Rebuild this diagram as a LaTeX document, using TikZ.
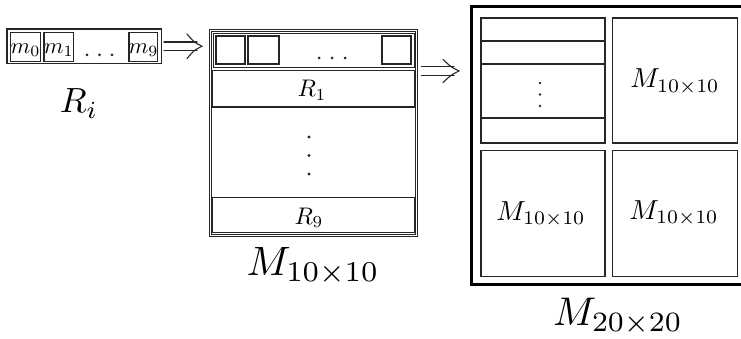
\documentclass[tikz,border=0pt]{standalone}
\usetikzlibrary{fit}
\newcommand\sz[2]{\scalebox{#1}{#2}}
\begin{document}
\begin{tikzpicture}[x=1pt,y=-1pt,
  box/.style={draw=black!85, line width=1.3pt, inner sep=0pt, outer sep=0pt},
  thickbox/.style={box, line width=1.9pt},
  dblbox/.style={draw=black!85, double, double distance=1.4pt, line width=0.85pt, inner sep=0pt, outer sep=0pt},
  bigbox/.style={draw=black, line width=2.6pt, inner sep=0pt, outer sep=0pt},
  arrowline/.style={draw=black!85, line width=1.1pt, line cap=round},
  lab/.style={anchor=base, inner sep=0pt},
  dot/.style={fill=black!85}]
\useasboundingbox (0,0) rectangle (741,339);
\clip (0,0) rectangle (741,339);
\fill[white] (0,0) rectangle (741,339);

% R_i
\node[thickbox, fit={(7,29) (161.5,63.5)}] (Ri) {};
\node[box, fit={(10.5,32.5) (40.5,61.5)}] (m0) {};
\node[box, fit={(44,32.5) (73.5,61.5)}] (m1) {};
\node[box, fit={(129,32.5) (157.5,61.5)}] (m9) {};
\node[lab] (m0lab) at (25.5,53.5) {\sz{2.25}{$m_0$}};
\node[lab] (m1lab) at (58.7,53.5) {\sz{2.25}{$m_1$}};
\node[lab] (m9lab) at (143.5,53.5) {\sz{2.25}{$m_9$}};
\foreach \x in {87,99.5,112} \fill[dot] (\x,55) circle (1.5pt);
\node[lab] (Rilab) at (79,113) {\sz{3.5}{$R_i$}};

% M_{10x10}
\node[dblbox, fit={(210.5,30.5) (416.5,235.5)}] (M10) {};
\node[thickbox, fit={(213.5,33.5) (414.5,67.5)}] (row0) {};
\node[box, fit={(216,36) (245,64)}] (c0) {};
\node[box, fit={(248,36) (279,64)}] (c1) {};
\node[box, fit={(382,36) (411,64)}] (c9) {};
\foreach \x in {319,332,345} \fill[dot] (\x,58) circle (1.5pt);
\node[box, fit={(212.5,70.5) (414.5,107)}] (R1) {};
\node[lab] (R1lab) at (312,97) {\sz{2.4}{$R_1$}};
\foreach \y in {137,155.5,174} \fill[dot] (309,\y) circle (1.6pt);
\node[box, fit={(212.5,197.5) (414.5,232.5)}] (R9) {};
\node[lab] (R9lab) at (309,224) {\sz{2.4}{$R_9$}};
\node[lab] (M10lab) at (313,275) {\sz{4.1}{$M_{10\times10}$}};

% M_{20x20}
\node[bigbox, fit={(471.5,6.5) (760,284.5)}] (M20) {};
\node[box, line width=2.1pt, fit={(481,18) (605,143)}] (TL) {};
\node[box, fit={(481,18) (605,41)}] (TLr0) {};
\node[box, fit={(481,41) (605,64)}] (TLr1) {};
\node[box, fit={(481,118) (605,143)}] (TLr9) {};
\foreach \y in {83,94.5,106} \fill[dot] (540,\y) circle (1.4pt);
\node[box, fit={(612.5,18) (737.5,143)}] (TR) {};
\node[box, fit={(481,150.5) (605,276.5)}] (BL) {};
\node[box, fit={(612.5,150.5) (737.5,276.5)}] (BR) {};
\node[lab] (TRlab) at (675,88) {\sz{2.75}{$M_{10\times10}$}};
\node[lab] (BLlab) at (541,220) {\sz{2.75}{$M_{10\times10}$}};
\node[lab] (BRlab) at (674,219) {\sz{2.75}{$M_{10\times10}$}};
\node[lab] (M20lab) at (618,325) {\sz{4.0}{$M_{20\times20}$}};

% arrows (double-bar implies arrows)
\coordinate (a1s) at ([xshift=2.5pt]Ri.east);
\coordinate (a1e) at ([xshift=-8.5pt]Ri.east -| M10.west);
\draw[arrowline] ([yshift=4.2pt]a1s) -- ([yshift=4.2pt,xshift=-5pt]a1e);
\draw[arrowline] ([yshift=-4.2pt]a1s) -- ([yshift=-4.2pt,xshift=-5pt]a1e);
\draw[arrowline] ([xshift=-15pt,yshift=12.3pt]a1e) .. controls ([xshift=-8pt,yshift=4pt]a1e) .. (a1e)
                 .. controls ([xshift=-8pt,yshift=-4pt]a1e) .. ([xshift=-15pt,yshift=-12.3pt]a1e);
\coordinate (a2s) at ([xshift=5pt,yshift=-0.5pt]R1.north -| M10.east);
\coordinate (a2e) at ([xshift=-12.5pt,yshift=-0.5pt]R1.north -| M20.west);
\draw[arrowline] ([yshift=4.2pt]a2s) -- ([yshift=4.2pt,xshift=-5pt]a2e);
\draw[arrowline] ([yshift=-4.2pt]a2s) -- ([yshift=-4.2pt,xshift=-5pt]a2e);
\draw[arrowline] ([xshift=-16pt,yshift=11.5pt]a2e) .. controls ([xshift=-8pt,yshift=4pt]a2e) .. (a2e)
                 .. controls ([xshift=-8pt,yshift=-4pt]a2e) .. ([xshift=-16pt,yshift=-11.5pt]a2e);
\end{tikzpicture}
\end{document}
